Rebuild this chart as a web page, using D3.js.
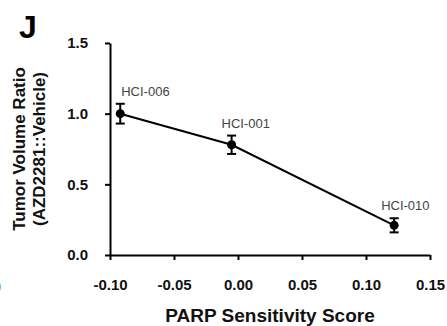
<!DOCTYPE html>
<html>
<head>
<meta charset="utf-8">
<script src="https://cdn.jsdelivr.net/npm/d3@7"></script>
<style>
  body { margin: 0; background: #fff; }
  svg { font-family: Arial, "Liberation Sans", sans-serif; }
</style>
</head>
<body>
<svg id="chart" width="447" height="326"></svg>
<script>
// data
const models = ['HCI-006', 'HCI-001', 'HCI-010'];
const parpScore = [-0.092, -0.005, 0.122];
const volumeRatio = [1.0, 0.78, 0.21];
const volumeErr = [0.07, 0.065, 0.05];
const xTicks = [-0.10, -0.05, 0.00, 0.05, 0.10, 0.15];
const yTicks = [0.0, 0.5, 1.0, 1.5];

const svg = d3.select('#chart');
const margins = { left: 110, top: 43, right: 17, bottom: 71 };
const width = 447, height = 326;

const x = d3.scaleLinear().domain([-0.10, 0.15]).range([margins.left, width - margins.right]);
const y = d3.scaleLinear().domain([0, 1.5]).range([height - margins.bottom, margins.top]);

// hyphen instead of unicode minus, as in the figure
const fmt = p => d => d3.format(p)(d).replace('\u2212', '-');

// axes
const xAxis = svg.append('g')
  .attr('transform', `translate(0, ${y(0)})`)
  .call(d3.axisBottom(x).tickValues(xTicks).tickFormat(fmt('.2f')).tickSize(5).tickSizeOuter(0));
const yAxis = svg.append('g')
  .attr('transform', `translate(${x(-0.10)}, 0)`)
  .call(d3.axisLeft(y).tickValues(yTicks).tickFormat(fmt('.1f')).tickSize(5).tickSizeOuter(0));

[xAxis, yAxis].forEach(a => {
  a.select('.domain').attr('stroke', '#000').attr('stroke-width', 2);
  a.selectAll('.tick line').attr('stroke', '#000').attr('stroke-width', 2);
  a.selectAll('.tick text')
    .attr('fill', '#111')
    .style('font-size', '15px')
    .style('font-weight', 'bold')
    .style('font-family', 'Arial, "Liberation Sans", sans-serif');
});
xAxis.selectAll('.tick text').attr('y', 35).attr('dy', 0);
yAxis.selectAll('.tick text').attr('x', -22);

// line
const pts = models.map((m, i) => ({ m, x: parpScore[i], y: volumeRatio[i], e: volumeErr[i] }));
svg.append('path')
  .datum(pts)
  .attr('fill', 'none')
  .attr('stroke', '#000')
  .attr('stroke-width', 2)
  .attr('d', d3.line().x(d => x(d.x)).y(d => y(d.y)));

// error bars
const eb = svg.append('g').selectAll('g').data(pts).join('g');
eb.append('line')
  .attr('x1', d => x(d.x)).attr('x2', d => x(d.x))
  .attr('y1', d => y(d.y - d.e)).attr('y2', d => y(d.y + d.e))
  .attr('stroke', '#000').attr('stroke-width', 2);
eb.selectAll('line.cap')
  .data(d => [d.y - d.e, d.y + d.e].map(v => ({ x: d.x, v })))
  .join('line')
  .attr('class', 'cap')
  .attr('x1', d => x(d.x) - 4.5).attr('x2', d => x(d.x) + 4.5)
  .attr('y1', d => y(d.v)).attr('y2', d => y(d.v))
  .attr('stroke', '#000').attr('stroke-width', 2);

svg.append('g').selectAll('circle').data(pts).join('circle')
  .attr('cx', d => x(d.x)).attr('cy', d => y(d.y)).attr('r', 4.5).attr('fill', '#000');

// point labels
const labelOffset = { 'HCI-006': [1, -18], 'HCI-001': [-10, -17], 'HCI-010': [-13, -15] };
svg.append('g').selectAll('text').data(pts).join('text')
  .attr('x', d => x(d.x) + labelOffset[d.m][0])
  .attr('y', d => y(d.y) + labelOffset[d.m][1])
  .attr('fill', '#444')
  .style('font-size', '13px')
  .text(d => d.m);

// axis titles
svg.append('text')
  .attr('x', x(0.025)).attr('y', 322)
  .attr('text-anchor', 'middle')
  .style('font-size', '19px').style('font-weight', 'bold')
  .attr('fill', '#111')
  .text('PARP Sensitivity Score');

const yt = svg.append('g')
  .attr('transform', `translate(25, ${(y(0) + y(1.5)) / 2}) rotate(-90)`)
  .attr('fill', '#111');
yt.append('text')
  .attr('text-anchor', 'middle')
  .style('font-size', '17px').style('font-weight', 'bold')
  .text('Tumor Volume Ratio');
yt.append('text')
  .attr('y', 20)
  .attr('text-anchor', 'middle')
  .style('font-size', '17px').style('font-weight', 'bold')
  .text('(AZD2281::Vehicle)');

// panel letter
svg.append('text')
  .attr('x', 19).attr('y', 38)
  .style('font-size', '32px').style('font-weight', 'bold')
  .text('J');

// fragment from neighbouring panel
svg.append('text')
  .attr('x', -4).attr('y', 291)
  .style('font-size', '15px').style('font-weight', 'bold')
  .text(')');
</script>
</body>
</html>
